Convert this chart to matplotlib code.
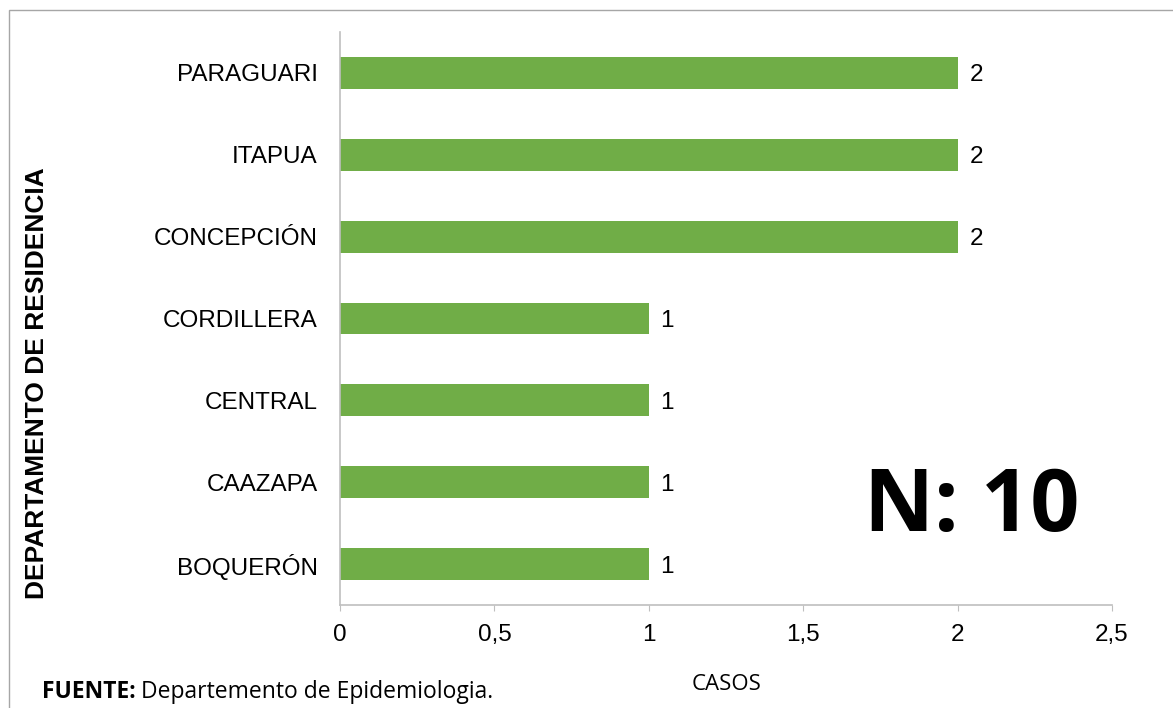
import matplotlib.pyplot as plt
from matplotlib.patches import Rectangle

departamentos = ['BOQUERÓN', 'CAAZAPA', 'CENTRAL', 'CORDILLERA', 'CONCEPCIÓN', 'ITAPUA', 'PARAGUARI']
casos = [1, 1, 1, 1, 2, 2, 2]
xticks = [0, 0.5, 1, 1.5, 2, 2.5]
xtick_labels = ['0', '0,5', '1', '1,5', '2', '2,5']

verde = '#70AD47'
gris = '#BFBFBF'

fig = plt.figure(figsize=(11.73, 7.08), dpi=100)
ax = fig.add_axes([340 / 1173, 1 - 605 / 708, (1112 - 340) / 1173, (605 - 32) / 708])

pos = range(len(departamentos))
ax.barh(pos, casos, height=0.39, color=verde)
for i, v in zip(pos, casos):
    ax.annotate(str(v), xy=(v, i), xytext=(8.5, 0), textcoords='offset points',
                va='center_baseline', ha='left', fontsize=17.5, family='Liberation Sans')

ax.set_xlim(0, 2.5)
ax.set_ylim(-0.5, len(departamentos) - 0.5)
ax.set_xticks(xticks)
ax.set_xticklabels(xtick_labels, family='Liberation Sans', fontsize=17.5)
ax.set_yticks(list(pos))
ax.set_yticklabels(departamentos, family='Liberation Sans', fontsize=17.5)
ax.tick_params(axis='x', direction='out', length=4.5, color=gris, pad=9)
ax.tick_params(axis='y', length=0, pad=16)

for s in ['top', 'right']:
    ax.spines[s].set_visible(False)
for s in ['left', 'bottom']:
    ax.spines[s].set_color(gris)
    ax.spines[s].set_linewidth(1.2)

ax.set_ylabel('DEPARTAMENTO DE RESIDENCIA', family='Liberation Sans', fontweight='bold',
              fontsize=19)
ax.yaxis.set_label_coords((37.5 - 340) / 772, (605 - 383) / 573)
ax.yaxis.label.set_va('center')
ax.set_xlabel('CASOS', family='Open Sans', fontsize=16)
ax.xaxis.set_label_coords((727 - 340) / 772, (605 - 684) / 573)
ax.xaxis.label.set_va('center')

# total de casos
ax.text(0.818, 0.168, 'N: 10', transform=ax.transAxes, ha='center', va='center',
        family='Open Sans', fontweight='bold', fontsize=62)

# fuente
fuente = fig.text(42 / 1173, 1 - 692 / 708, 'FUENTE:', family='Open Sans', fontweight='bold',
                  fontsize=16.5, va='center', ha='left')
ax.annotate('Departemento de Epidemiologia.', xy=(1, 0.5), xycoords=fuente,
            xytext=(4, 0), textcoords='offset points', family='Open Sans', fontsize=16.5,
            va='center', ha='left', annotation_clip=False)

fig.patches.append(Rectangle((9 / 1173, -0.1), 2, 1.1 - 10 / 708, transform=fig.transFigure,
                             fill=False, edgecolor='#A6A6A6', linewidth=1))

fig.savefig('out.png', dpi=100)
